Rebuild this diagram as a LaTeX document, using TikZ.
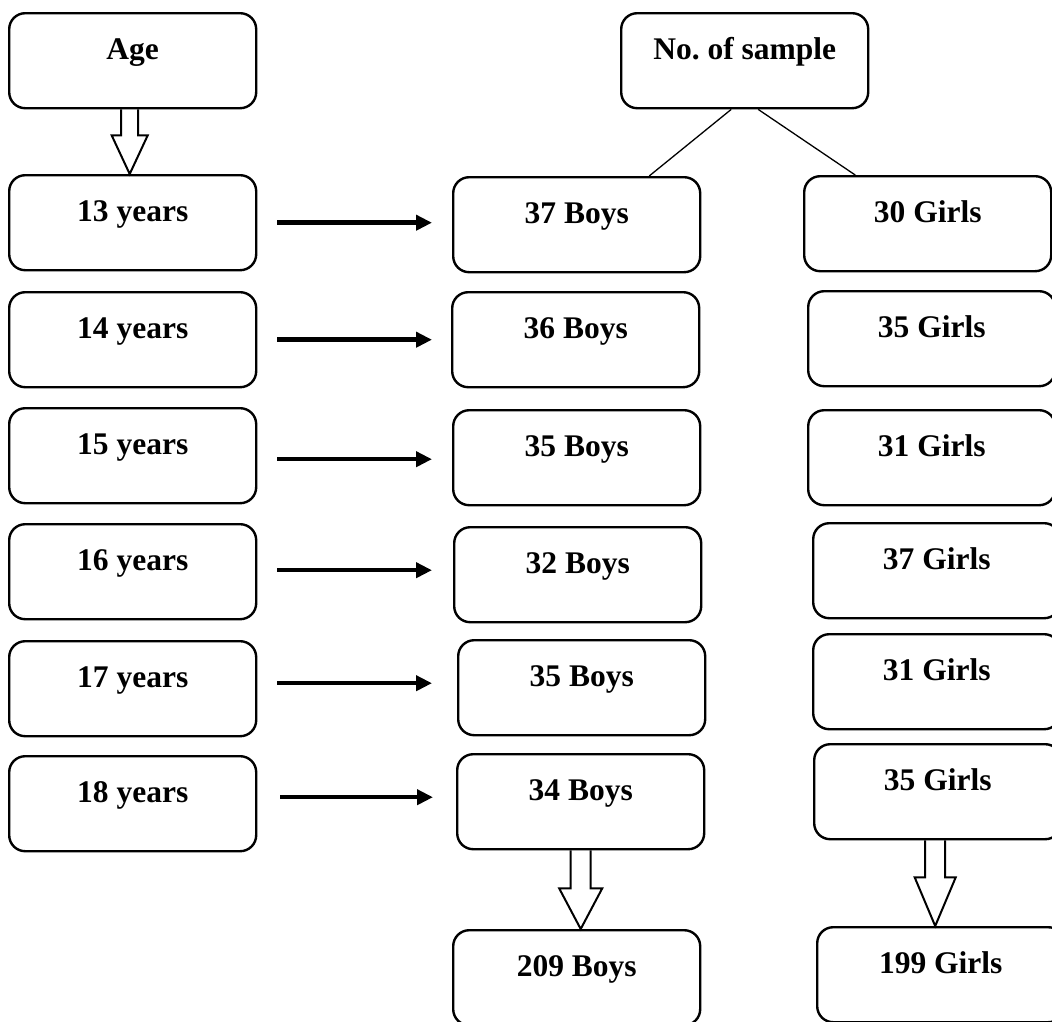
\documentclass[tikz,border=0pt]{standalone}
\usepackage{fontspec}
\setmainfont{Liberation Serif}
\usetikzlibrary{arrows.meta,calc}
\tikzset{
  box/.style={draw, line width=2.4pt, rounded corners=16pt, inner sep=0pt,
    text height=46pt, text depth=49pt, minimum width=247pt, anchor=north west,
    font=\fontsize{31.5}{31.5}\selectfont\bfseries},
  harrow/.style={line width=4.5pt, -{Triangle[length=16pt,width=15pt]}},
  fat/.style={line width=2pt, line join=miter},
  branch/.style={line width=1.3pt}
}
\newcommand\fatdown[5]{\draw[fat] ($(#1)+(-#3,0)$) -- ($(#1)+(-#3,#5)$) -- ($(#1)+(-#4,#5)$) -- (#1 |- #2) -- ($(#1)+(#4,#5)$) -- ($(#1)+(#3,#5)$) -- ($(#1)+(#3,0)$);}
\begin{document}
\begin{tikzpicture}[x=1pt,y=-1pt]
\useasboundingbox (0,0) rectangle (1052,1021);
\clip (0,0) rectangle (1052,1021);
% left column
\node[box] (age) at (8,12) {Age};
\node[box] (y13) at (8,174) {13 years};
\node[box] (y14) at (8,291) {14 years};
\node[box] (y15) at (8,407) {15 years};
\node[box] (y16) at (8,523) {16 years};
\node[box] (y17) at (8,640) {17 years};
\node[box] (y18) at (8,755) {18 years};
% middle column
\node[box] (nos) at (620,12) {No.\ of sample};
\node[box] (b13) at (452,176) {37 Boys};
\node[box] (b14) at (451,291) {36 Boys};
\node[box] (b15) at (452,409) {35 Boys};
\node[box] (b16) at (453,526) {32 Boys};
\node[box] (b17) at (457,639) {35 Boys};
\node[box] (b18) at (456,753) {34 Boys};
\node[box] (bt) at (452,929) {209 Boys};
% right column
\node[box] (g13) at (803,175) {30 Girls};
\node[box] (g14) at (807,290) {35 Girls};
\node[box] (g15) at (807,409) {31 Girls};
\node[box] (g16) at (812,522) {37 Girls};
\node[box] (g17) at (812,633) {31 Girls};
\node[box] (g18) at (813,743) {35 Girls};
\node[box] (gt) at (816,926) {199 Girls};
% branches
\draw[branch] ($(nos.south)+(-13.5,0)$) -- ($(b13.north)+(72.5,0)$);
\draw[branch] ($(nos.south)+(13.5,0)$) -- ($(g13.north)+(-72.5,0)$);
% horizontal arrows
\draw[harrow, shorten <=20pt, shorten >=20pt] ($(y13.east)+(0,0)$) -- ($(y13.east -| b13.west)+(0,0)$);
\draw[harrow, shorten <=20pt, shorten >=19pt] ($(y14.east)+(0,0)$) -- ($(y14.east -| b14.west)+(0,0)$);
\draw[harrow, shorten <=20pt, shorten >=20pt] ($(y15.east)+(0,3.5)$) -- ($(y15.east -| b15.west)+(0,3.5)$);
\draw[harrow, shorten <=20pt, shorten >=21pt] ($(y16.east)+(0,-1.5)$) -- ($(y16.east -| b16.west)+(0,-1.5)$);
\draw[harrow, shorten <=20pt, shorten >=25pt] ($(y17.east)+(0,-5.5)$) -- ($(y17.east -| b17.west)+(0,-5.5)$);
\draw[harrow, shorten <=23pt, shorten >=23pt] ($(y18.east)+(0,-6.5)$) -- ($(y18.east -| b18.west)+(0,-6.5)$);
% hollow down arrows
\coordinate (ageout) at ($(age.south)+(-3,0)$);
\coordinate (girlout) at ($(g18.south)+(-2.5,0)$);
\fatdown{ageout}{y13.north}{8.5}{18}{26}
\fatdown{b18.south}{bt.north}{10}{21.5}{38}
\fatdown{girlout}{gt.north}{10}{20.5}{37}
\end{tikzpicture}
\end{document}
